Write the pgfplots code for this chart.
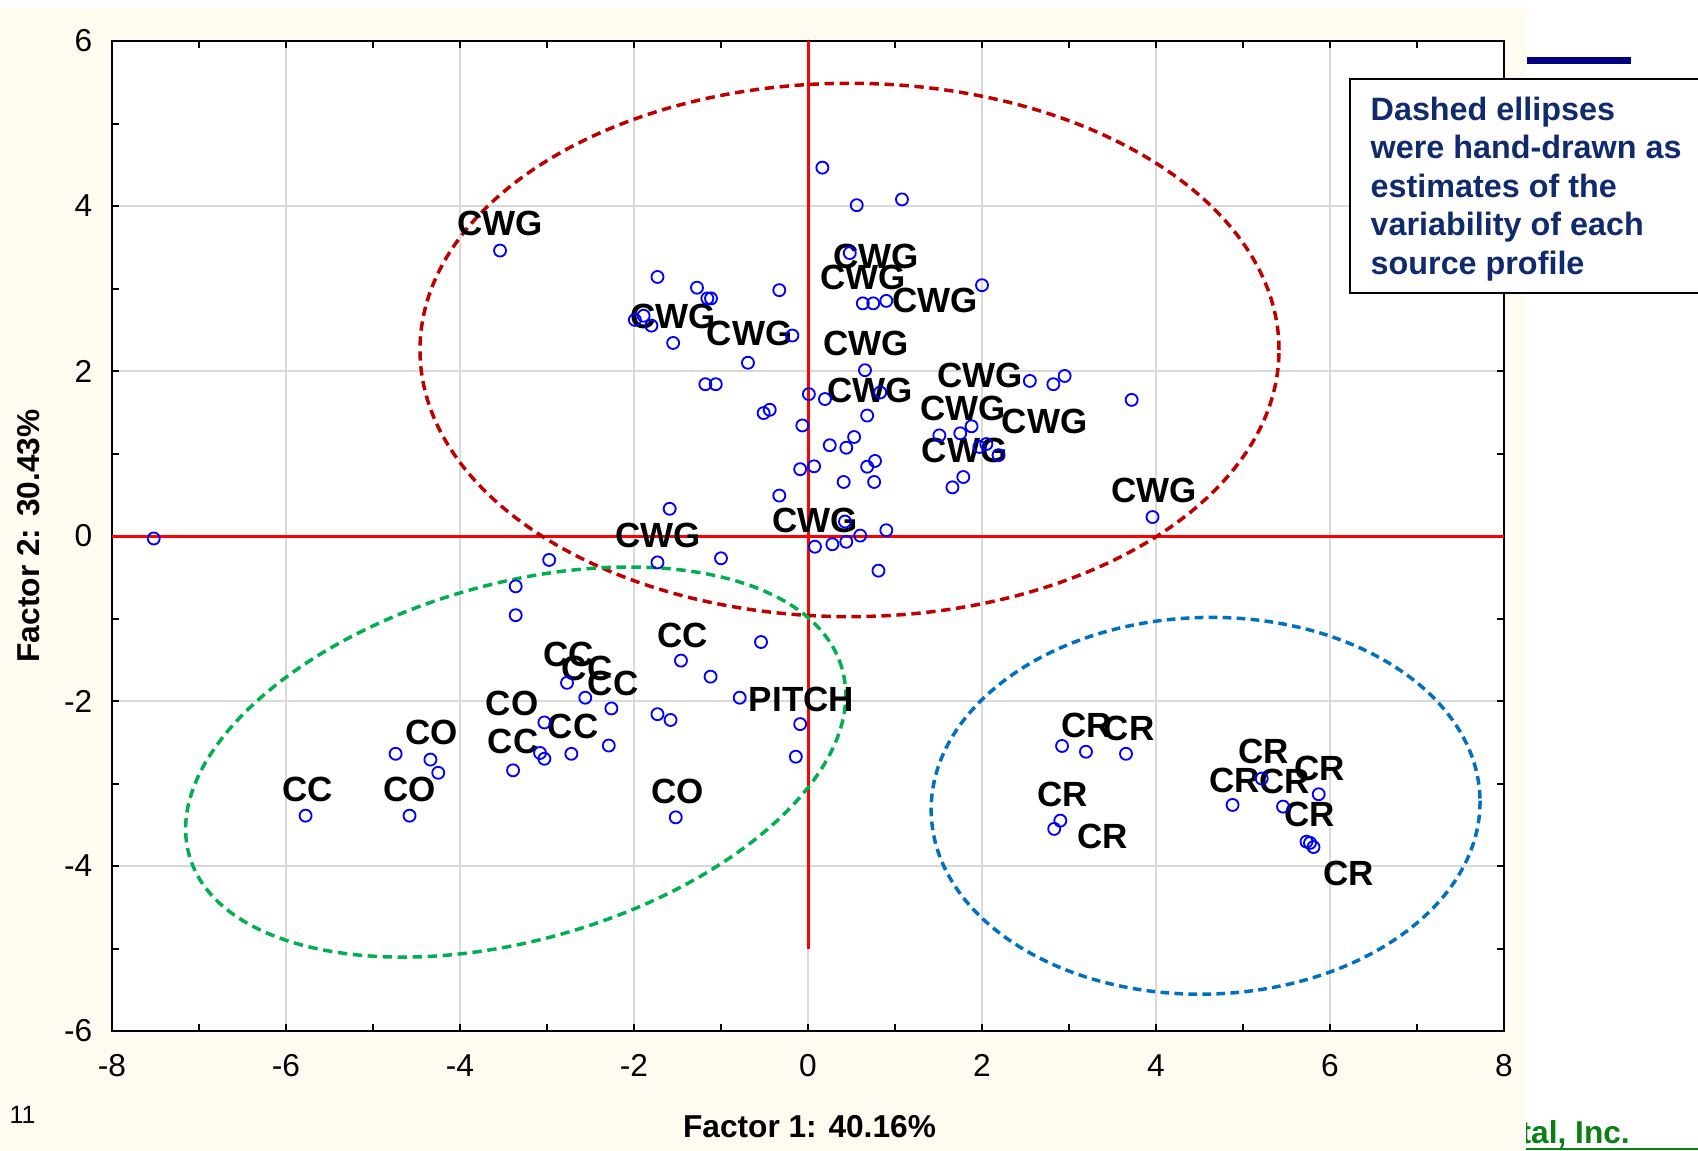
\documentclass[border=0pt]{standalone}
\usepackage{pgfplots}
\pgfplotsset{compat=1.18}
\usepackage{fontspec}
\setmainfont{Liberation Sans}
\definecolor{cream}{RGB}{255,251,240}
\definecolor{ellred}{RGB}{192,0,0}
\definecolor{ellgreen}{RGB}{0,176,80}
\definecolor{ellblue}{RGB}{0,112,192}
\definecolor{navytext}{RGB}{16,42,110}
\definecolor{navybar}{RGB}{0,0,128}
\definecolor{gridgray}{RGB}{217,217,217}
\definecolor{incgreen}{RGB}{10,128,20}
\definecolor{ptblue}{RGB}{0,0,255}
\newcommand\tickfont{\fontsize{9.5}{11}\selectfont}
\newcommand\lblfont{\fontsize{10.5}{12}\selectfont\bfseries}
\newcommand\boxfont{\fontsize{9.7}{11.5}\selectfont\bfseries}
\begin{document}
\begin{tikzpicture}
\path[use as bounding box] (0pt,0pt) rectangle (509.4pt,-345.3pt);
\begin{scope}[x=0.3pt,y=-0.3pt]
\node[anchor=base west, inner sep=0pt, font=\fontsize{9.5}{11}\selectfont\bfseries, text=incgreen] at (1520,1143) {tal, Inc.};
\draw[incgreen, line width=0.6pt] (1526,1149) -- (1698,1149);
\fill[cream] (0,7) rectangle (1526,1151);
\fill[white] (112,41) rectangle (1504,1031);
\end{scope}
\begin{axis}[
 at={(33.6pt,-309.3pt)}, anchor=south west,
 width=417.6pt, height=297pt, scale only axis,
 xmin=-8, xmax=8, ymin=-6, ymax=6,
 xtick={-8,-6,...,8}, ytick={-6,-4,...,6},
 xticklabels={-8,-6,-4,-2,0,2,4,6,8},
 yticklabels={-6,-4,-2,0,2,4,6},
 minor tick num=1,
 tick align=inside, tick pos=both, ticklabel pos=left,
 major tick length=2.1pt, minor tick length=2.1pt,
 tick style={black, line width=0.6pt},
 axis line style={black, line width=0.7pt},
 grid=major, major grid style={gridgray, line width=0.35pt},
 ticklabel style={font=\tickfont, inner sep=0pt},
 xticklabel style={yshift=-6.9pt},
 yticklabel style={xshift=-5.7pt},
]
% reference lines
\draw[red, line width=0.9pt] (axis cs:-8,0) -- (axis cs:8,0);
\draw[red, line width=0.9pt] (axis cs:0,6) -- (axis cs:0,-5);
% hand-drawn ellipses
\draw[ellred, line width=1.05pt, dash pattern=on 2.8pt off 1.7pt] (axis cs:0.477,2.255) ellipse [x radius=128.85pt, y radius=80pt];
\draw[ellgreen, line width=1.05pt, dash pattern=on 2.8pt off 1.7pt, rotate around={16:(axis cs:-3.36,-2.74)}] (axis cs:-3.36,-2.74) ellipse [x radius=101.85pt, y radius=53.4pt];
\draw[ellblue, line width=1.05pt, dash pattern=on 2.6pt off 1.6pt, rotate around={1.5:(axis cs:4.57,-3.27)}] (axis cs:4.57,-3.27) ellipse [x radius=82.35pt, y radius=56.5pt];
% labels
\addplot[only marks, mark=none, nodes near coords, point meta=explicit symbolic,
  nodes near coords style={anchor=center, inner sep=0pt, font=\lblfont, text=black}]
 table[meta=label] {
x y label
-3.54 3.79 CWG
-1.55 2.66 CWG
-0.67 2.45 CWG
0.78 3.39 CWG
0.63 3.14 CWG
0.665 2.34 CWG
0.715 1.77 CWG
1.46 2.86 CWG
1.98 1.95 CWG
1.785 1.55 CWG
2.72 1.385 CWG
1.80 1.04 CWG
3.98 0.55 CWG
-1.72 0.01 CWG
0.08 0.19 CWG
-5.755 -3.07 CC
-4.58 -3.07 CO
-4.33 -2.38 CO
-3.40 -2.03 CO
-3.39 -2.49 CC
-2.75 -1.44 CC
-2.54 -1.60 CC
-2.24 -1.785 CC
-2.70 -2.31 CC
-1.44 -1.20 CC
-1.50 -3.10 CO
-0.075 -1.98 PITCH
3.20 -2.30 CR
3.69 -2.33 CR
2.93 -3.13 CR
3.39 -3.645 CR
5.235 -2.61 CR
4.90 -2.96 CR
5.48 -2.98 CR
5.88 -2.82 CR
5.77 -3.38 CR
6.21 -4.09 CR
};
% factor scores
\addplot[only marks, mark=o, mark size=1.8pt, mark options={draw=ptblue, line width=0.55pt}]
 table {
x y
-7.52 -0.03
-3.54 3.46
0.165 4.465
0.56 4.01
1.08 4.08
-1.73 3.14
-1.276 3.01
-1.157 2.88
-1.115 2.88
-0.33 2.98
-1.99 2.62
-1.89 2.67
-1.80 2.55
-1.55 2.34
-0.18 2.43
-0.69 2.10
-1.18 1.84
-1.06 1.84
0.01 1.72
0.195 1.66
-0.51 1.49
-0.44 1.53
-0.065 1.34
0.48 3.43
0.63 2.82
0.75 2.82
0.90 2.85
0.655 2.01
0.83 1.74
0.68 1.46
2.00 3.04
2.55 1.88
2.82 1.84
2.95 1.94
3.72 1.65
1.88 1.33
1.51 1.22
1.75 1.245
1.97 1.08
2.05 1.115
2.19 0.98
1.785 0.715
1.66 0.59
3.96 0.23
0.90 0.07
0.81 -0.42
0.53 1.20
0.25 1.10
0.44 1.07
0.68 0.84
0.77 0.91
-0.09 0.81
0.07 0.845
0.41 0.655
0.76 0.655
-0.33 0.49
-1.59 0.33
0.425 0.175
0.60 0.005
0.44 -0.07
0.28 -0.10
0.08 -0.13
-1.73 -0.32
-1.00 -0.27
-2.975 -0.29
-3.36 -0.61
-3.36 -0.96
-5.775 -3.39
-4.58 -3.39
-4.74 -2.64
-4.34 -2.71
-4.25 -2.87
-3.39 -2.84
-3.03 -2.26
-3.08 -2.63
-3.03 -2.70
-0.54 -1.285
-1.46 -1.51
-1.12 -1.705
-0.785 -1.96
-2.77 -1.78
-2.56 -1.96
-2.26 -2.09
-1.73 -2.16
-1.58 -2.23
-2.72 -2.64
-2.29 -2.54
-0.09 -2.28
-0.14 -2.675
-1.52 -3.41
2.92 -2.545
3.195 -2.615
3.655 -2.64
2.90 -3.45
2.83 -3.55
4.88 -3.26
5.215 -2.94
5.46 -3.28
5.87 -3.13
5.73 -3.705
5.77 -3.72
5.81 -3.77
};
\end{axis}
\begin{scope}[x=0.3pt,y=-0.3pt]
% axis titles
\node[anchor=base, inner sep=0pt, font=\fontsize{9.5}{11}\selectfont\bfseries] at (809.5,1137) {Factor 1: 40.16\%};
\node[anchor=base, inner sep=0pt, rotate=90, font=\fontsize{9.5}{11}\selectfont\bfseries] at (39,536) {Factor 2: 30.43\%};
\node[anchor=base west, inner sep=0pt, font=\fontsize{7.5}{9}\selectfont] at (9,1123.5) {11};
% note box
\fill[navybar] (1527,57) rectangle (1631,64);
\draw[black, line width=0.6pt, fill=white] (1350,78.5) rectangle (1720,292.5);
\node[anchor=base west, inner sep=0pt, font=\boxfont, text=navytext] at (1370,120) {Dashed ellipses};
\node[anchor=base west, inner sep=0pt, font=\boxfont, text=navytext] at (1370,158.5) {were hand-drawn as};
\node[anchor=base west, inner sep=0pt, font=\boxfont, text=navytext] at (1370,197) {estimates of the};
\node[anchor=base west, inner sep=0pt, font=\boxfont, text=navytext] at (1370,235.5) {variability of each};
\node[anchor=base west, inner sep=0pt, font=\boxfont, text=navytext] at (1370,274) {source profile};
\end{scope}
\end{tikzpicture}
\end{document}
